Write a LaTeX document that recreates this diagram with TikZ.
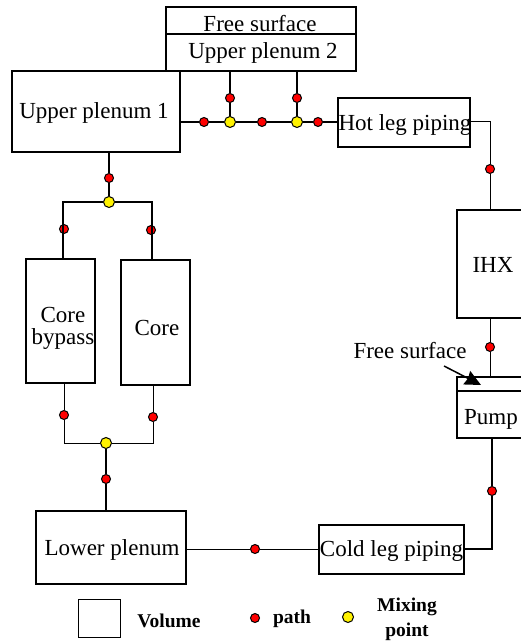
\documentclass[tikz,border=0pt]{standalone}
\usepackage{fontspec}
\setmainfont{Liberation Serif}
\usetikzlibrary{arrows.meta}

\tikzset{
    volume/.style={draw, rectangle, inner sep=0pt, line width=1.1pt},
    heavy/.style={line width=2pt},
    voltxt/.style={inner sep=0pt, font=\fontsize{23}{22}\selectfont, align=center},
    pathpt/.style={draw, circle, fill=red, inner sep=0pt, minimum size=9pt, line width=1pt},
    mixpt/.style={draw, circle, fill=yellow, inner sep=0pt, minimum size=11pt, line width=1pt},
    pipe/.style={line width=1.4pt},
    legendtxt/.style={font=\bfseries\fontsize{19.5}{25}\selectfont, align=center}
}

\begin{document}
\begin{tikzpicture}[x=1pt, y=-1pt]
        \useasboundingbox (0, 0) rectangle (521, 644);

        % volumes
        \node[volume, heavy, minimum width=190pt, minimum height=27pt] (fs) at (261, 20.5) {};
        \node[volume, heavy, minimum width=190pt, minimum height=37pt] (up2) at (261, 52.5) {};
        \node[volume, minimum width=168pt, minimum height=81pt] (up1) at (96, 111.5) {};
        \node[volume, minimum width=132pt, minimum height=49pt] (hot) at (404, 122.5) {};
        \node[volume, heavy, minimum width=66pt, minimum height=108pt] (ihx) at (490, 264) {};
        \node[volume, heavy, minimum width=66pt, minimum height=14pt] (pfs) at (490, 384) {};
        \node[volume, heavy, minimum width=66pt, minimum height=47pt] (pump) at (490, 414.5) {};
        \node[volume, minimum width=69pt, minimum height=124pt] (bypass) at (60.5, 321) {};
        \node[volume, heavy, minimum width=69pt, minimum height=125pt] (core) at (155.5, 322.5) {};
        \node[volume, heavy, minimum width=150pt, minimum height=73pt] (lp) at (111, 547.5) {};
        \node[volume, minimum width=145pt, minimum height=49pt] (cold) at (391.5, 549.5) {};

        % names of the volumes
        \node[voltxt] (tfs) at (260, 23.5) {Free surface};
        \node[voltxt] (tup2) at (263, 53) {Upper plenum 2};
        \node[voltxt] (tup1) at (94, 113) {Upper plenum 1};
        \node[voltxt] (thot) at (405, 125) {Hot leg piping};
        \node[voltxt] (tihx) at (493, 265) {IHX};
        \node[voltxt] (tpump) at (491, 419) {Pump};
        \node[voltxt] (tbypass) at (63, 328.5) {Core\\bypass};
        \node[voltxt] (tcore) at (157, 328) {Core};
        \node[voltxt] (tlp) at (112, 550) {Lower plenum};
        \node[voltxt] (tcold) at (391.5, 551) {Cold leg piping};

        % mixing points
        \node[mixpt] (m1) at (230, 122) {};
        \node[mixpt] (m2) at (297, 122) {};
        \node[mixpt] (m3) at (109, 202) {};
        \node[mixpt] (m4) at (106, 443) {};

        % paths
        \foreach \name/\x/\y in {p1/204/122, p2/262/122, p3/318/122, p4/230/98, p5/297/98,
            p6/490/169, p7/490/347, p8/492/491, p9/255/549, p10/106/479,
            p11/64/415, p12/153/417, p13/64/229, p14/151/230, p15/109/178} {
            \node[pathpt] (\name) at (\x, \y) {};
        }

        % corners
        \coordinate (c1) at (490, 122);
        \coordinate (c2) at (492, 549);
        \coordinate (c3) at (63, 202);
        \coordinate (c4) at (152, 202);
        \coordinate (c5) at (64, 443);
        \coordinate (c6) at (153, 443);

        % connectors
        \draw[pipe] (up1.east |- m1) -- (p1) -- (m1) -- (p2) -- (m2) -- (p3) -- (hot.west |- m2);
        \draw[pipe] (m1 |- up2.south) -- (p4) -- (m1);
        \draw[pipe] (m2 |- up2.south) -- (p5) -- (m2);
        \draw[line width=1pt] (hot.east |- c1) -- (c1) -- (p6) -- (p6 |- ihx.north);
        \draw[line width=1pt] (p7 |- ihx.south) -- (p7) -- (p7 |- pfs.north);
        \draw[pipe] (p8 |- pump.south) -- (p8) -- (c2) -- (cold.east |- c2);
        \draw[line width=1pt] (cold.west |- p9) -- (p9) -- (lp.east |- p9);
        \draw[pipe] (m3 |- up1.south) -- (p15) -- (m3);
        \draw[pipe] (m3) -- (c3) -- (p13 -| c3) -- (c3 |- bypass.north);
        \draw[pipe] (m3) -- (c4) -- (p14 -| c4) -- (c4 |- core.north);
        \draw[line width=1pt] (c5 |- bypass.south) -- (p11) -- (c5) -- (m4);
        \draw[line width=1pt] (c6 |- core.south) -- (p12) -- (c6) -- (m4);
        \draw[pipe] (m4) -- (p10) -- (m4 |- lp.north);

        % free surface of the pump
        \node[voltxt] (fslabel) at (410, 351) {Free surface};
        \coordinate (tail) at (444, 366);
        \coordinate (head) at (481, 385);
        \draw[-{Stealth[length=16pt, width=15pt, inset=1.5pt]}, line width=1.5pt] (tail) -- (head);

        % legend
        \node[draw, rectangle, inner sep=0pt, line width=0.9pt, minimum width=42pt, minimum height=38pt] (lvol) at (99, 618) {};
        \node[legendtxt] (tvol) at (169, 621) {Volume};
        \node[pathpt] (lpath) at (255, 618) {};
        \node[legendtxt] (tpath) at (292, 619) {path};
        \node[mixpt] (lmix) at (348, 617) {};
        \node[legendtxt] (tmix) at (407, 619.5) {Mixing\\point};
    \end{tikzpicture}
\end{document}
